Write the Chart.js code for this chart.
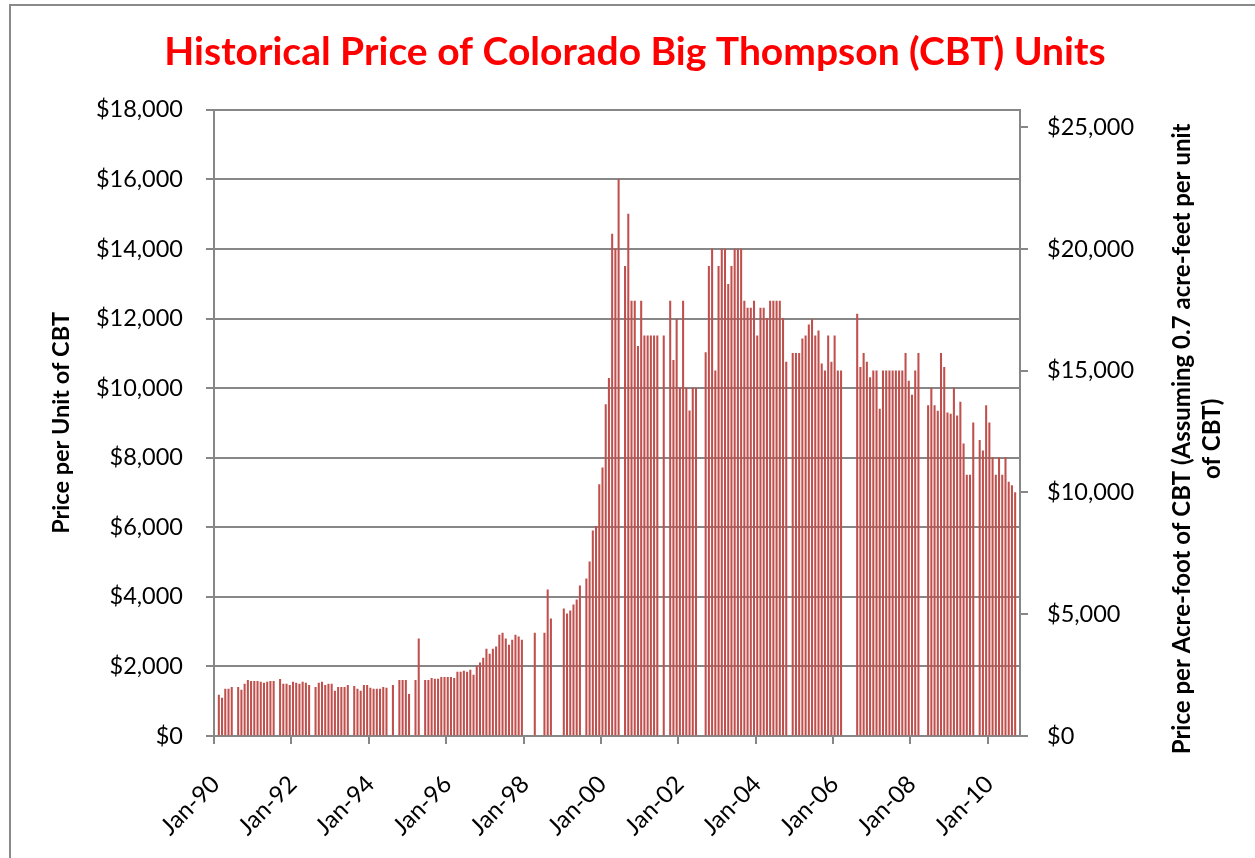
<!DOCTYPE html>
<html>
<head>
<meta charset="utf-8">
<script src="https://cdn.jsdelivr.net/npm/chart.js@4.4.1/dist/chart.umd.min.js"></script>
<style>
  html, body { margin: 0; padding: 0; background: #ffffff; overflow: hidden; }
  canvas { display: block; }
</style>
</head>
<body>
<canvas id="chart" width="1255" height="858"></canvas>
<script>
// ---------- text ----------
const chartTitle = 'Historical Price of Colorado Big Thompson (CBT) Units';
const leftAxisTitle = 'Price per Unit of CBT';
const rightAxisTitle = ['Price per Acre-foot of CBT (Assuming 0.7 acre-feet per unit', 'of CBT)'];

// ---------- categories (monthly, Jan-90 .. Oct-10) ----------
const monthNames = ['Jan','Feb','Mar','Apr','May','Jun','Jul','Aug','Sep','Oct','Nov','Dec'];
const years = [1990,1991,1992,1993,1994,1995,1996,1997,1998,1999,2000,2001,2002,2003,2004,2005,2006,2007,2008,2009,2010];
const xTickLabels = ['Jan-90','Jan-92','Jan-94','Jan-96','Jan-98','Jan-00','Jan-02','Jan-04','Jan-06','Jan-08','Jan-10'];

// ---------- price per unit of CBT ($), one value per month, null = no sale ----------
const p1990 = [null,1175,1090,1350,1350,1400,null,1400,1320,1490,1600,1575];
const p1991 = [1575,1575,1550,1520,1550,1575,1575,null,1630,1490,1490,1460];
const p1992 = [1550,1520,1490,1550,1520,1460,null,1400,1520,1550,1460,1490];
const p1993 = [1490,1290,1400,1400,1400,1460,null,1430,1350,1290,1460,1460];
const p1994 = [1375,1350,1350,1350,1400,1375,null,1460,null,1600,1600,1600];
const p1995 = [1200,null,1600,2790,null,1600,1600,1660,1635,1635,1690,1690];
const p1996 = [1690,1690,1660,1835,1835,1865,1835,1895,1750,2010,2100,2240];
const p1997 = [2500,2355,2500,2560,2900,2960,2790,2615,2760,2900,2850,2760];
const p1998 = [null,null,null,2960,null,null,2960,4200,3365,null,null,null];
const p1999 = [3655,3510,3600,3770,3915,4320,null,4520,5010,5900,6030,7230];
const p2000 = [7710,9530,10280,14430,14000,16000,null,13500,15000,12500,12500,11200];
const p2001 = [12500,11500,11500,11500,11500,11500,null,11500,null,12500,10800,11980];
const p2002 = [10000,12500,10000,9350,10000,10000,null,null,11020,13500,14000,10500];
const p2003 = [13500,14000,14000,12980,13500,14000,14000,14000,12500,12300,12300,12500];
const p2004 = [11500,12300,12300,12000,12500,12500,12500,12500,12000,10750,null,11000];
const p2005 = [11000,11000,11420,11500,11820,11980,11500,11650,10700,10500,11500,10750];
const p2006 = [11500,10500,10500,null,null,null,null,12130,10600,11000,10750,10300];
const p2007 = [10500,10500,9400,10500,10500,10500,10500,10500,10500,10500,11000,10200];
const p2008 = [9800,10500,11000,null,null,9500,10000,9500,9340,11000,10600,9290];
const p2009 = [9250,10000,9200,9600,8400,7500,7500,9000,null,8500,8200,9500];
const p2010 = [9000,8000,7500,8000,7500,8000,7300,7200,7000,null];

// ---------- axis ranges and tick values ----------
const unitAxisMax = 18000, unitAxisStep = 2000;
const acreFootAxisMax = 25714;
const acreFootTicks = [0, 5000, 10000, 15000, 20000, 25000];

const pricePerUnit = [].concat(p1990,p1991,p1992,p1993,p1994,p1995,p1996,p1997,p1998,p1999,
  p2000,p2001,p2002,p2003,p2004,p2005,p2006,p2007,p2008,p2009,p2010);
const categories = [];
years.forEach(y => monthNames.forEach(m => {
  if (categories.length < pricePerUnit.length) categories.push(m + '-' + String(y).slice(2));
}));

const AXIS_GRAY = '#878787';
const FONT = 'Lato';

const framePlugin = {
  id: 'frame',
  beforeDraw(chart) {
    const c = chart.ctx;
    c.save();
    c.fillStyle = '#ffffff';
    c.fillRect(0, 0, chart.width, chart.height);
    c.strokeStyle = '#8a8a8a';
    c.lineWidth = 2;
    c.strokeRect(10, 5, chart.width + 40, chart.height + 40);
    c.restore();
  }
};

const rightTitlePlugin = {
  id: 'rightTitle',
  afterDraw(chart) {
    const s = chart.scales.y1;
    const area = chart.chartArea;
    const c = chart.ctx;
    c.save();
    c.font = 'bold 24px ' + FONT;
    c.fillStyle = '#000000';
    c.textAlign = 'center';
    c.textBaseline = 'middle';
    const cy = (area.top + area.bottom) / 2 + 16;
    rightAxisTitle.forEach((line, i) => {
      c.save();
      c.translate(s.left + 162 + i * 30, cy);
      c.rotate(-Math.PI / 2);
      c.fillText(line, 0, 0);
      c.restore();
    });
    c.restore();
  }
};

function money(v) { return '$' + Number(v).toLocaleString('en-US'); }

function build() {
  Chart.defaults.font.family = FONT;
  Chart.defaults.color = '#000000';
  new Chart(document.getElementById('chart'), {
    type: 'bar',
    data: {
      labels: categories,
      datasets: [{
        label: 'Price per Unit of CBT',
        data: pricePerUnit,
        yAxisID: 'y',
        backgroundColor: '#C0504D',
        borderWidth: 0,
        barThickness: 1.4
      }]
    },
    options: {
      responsive: false,
      animation: false,
      devicePixelRatio: 1,
      layout: { padding: { left: 15, right: 0, top: 0, bottom: 0 } },
      plugins: {
        legend: { display: false },
        tooltip: { enabled: false },
        title: {
          display: true,
          text: chartTitle,
          color: '#FF0000',
          font: { family: FONT, size: 39, weight: 'bold' },
          padding: { top: 29, bottom: 34 }
        }
      },
      scales: {
        x: {
          type: 'category',
          offset: true,
          grid: {
            display: true,
            drawOnChartArea: false,
            drawTicks: true,
            tickLength: 8,
            lineWidth: 2,
            color: ctx => (ctx.index % 24 === 0 ? AXIS_GRAY : 'rgba(0,0,0,0)')
          },
          border: { display: true, color: AXIS_GRAY, width: 2 },
          ticks: {
            autoSkip: false,
            minRotation: 45,
            maxRotation: 45,
            padding: 26,
            color: '#000000',
            font: { family: FONT, size: 24 },
            callback: (v, i) => (xTickLabels.includes(categories[i]) ? categories[i] : '')
          },
          afterFit: s => { s.height = 122; }
        },
        y: {
          position: 'left',
          min: 0,
          max: unitAxisMax,
          grid: { color: AXIS_GRAY, lineWidth: 2, tickLength: 8 },
          border: { display: true, color: AXIS_GRAY, width: 2 },
          ticks: {
            stepSize: unitAxisStep,
            padding: 23,
            color: '#000000',
            font: { family: FONT, size: 23.5 },
            callback: v => money(v)
          },
          title: {
            display: true,
            text: leftAxisTitle,
            color: '#000000',
            font: { family: FONT, size: 23.5, weight: 'bold' },
            padding: { top: 32, bottom: 0 }
          },
          afterFit: s => { s.width = 199; }
        },
        y1: {
          position: 'right',
          min: 0,
          max: acreFootAxisMax,
          grid: { drawOnChartArea: false, color: AXIS_GRAY, lineWidth: 2, tickLength: 8 },
          border: { display: true, color: AXIS_GRAY, width: 2 },
          afterBuildTicks: s => { s.ticks = acreFootTicks.map(v => ({ value: v })); },
          ticks: {
            padding: 19,
            color: '#000000',
            font: { family: FONT, size: 23.5 },
            callback: v => money(v)
          },
          afterFit: s => { s.width = 235; }
        }
      }
    },
    plugins: [framePlugin, rightTitlePlugin]
  });
}

if (document.fonts && document.fonts.load) {
  Promise.all([
    document.fonts.load('23px Lato'),
    document.fonts.load('bold 36px Lato')
  ]).then(build, build);
} else {
  build();
}
</script>
</body>
</html>
